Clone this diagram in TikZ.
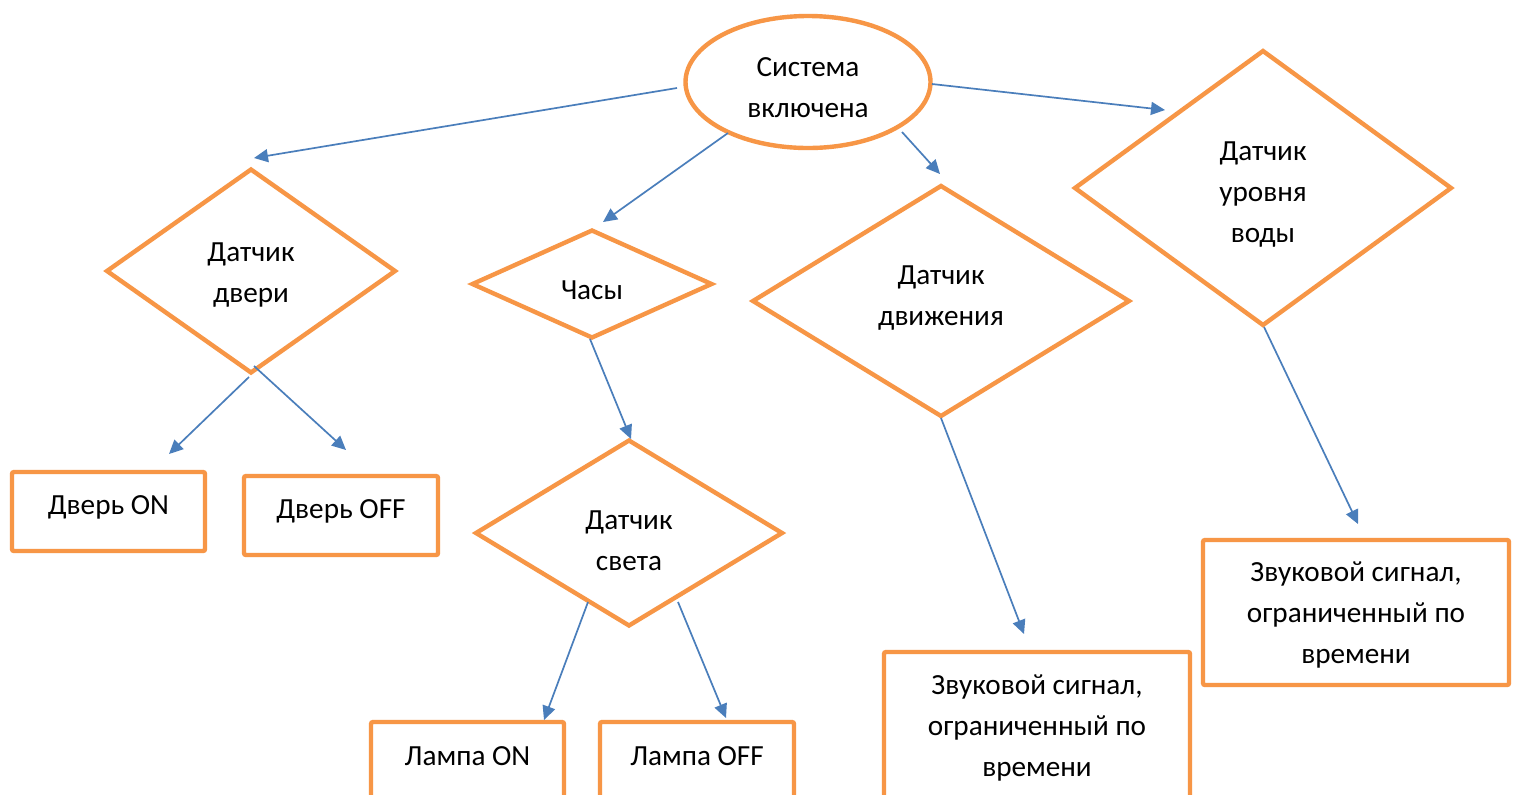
\documentclass[tikz,border=0pt]{standalone}
\usepackage{fontspec}
\setmainfont{Carlito}
\usetikzlibrary{shapes.geometric,arrows.meta}
\definecolor{orng}{HTML}{F79646}
\definecolor{blu}{HTML}{4A7EBB}
\begin{document}
\begin{tikzpicture}[x=0.5pt,y=-0.5pt,
  shp/.style={draw=orng,line width=2.2pt,inner sep=0pt,outer sep=0pt},
  dia/.style={shp,diamond},
  box/.style={shp,rectangle,rounded corners=1pt},
  lbl/.style={font=\fontsize{14.6}{20.5}\selectfont,align=center,inner sep=0pt},
  arr/.style={draw=blu,line width=0.85pt,-{Triangle[length=7pt,width=6.5pt]}}]
\clip (0,0) rectangle (1518,794);
\useasboundingbox (0,0) rectangle (1518,794);
\fill[white] (0,0) rectangle (1518,794);
% shapes
\node[shp,ellipse,minimum width=122.5pt,minimum height=66pt] (sys) at (808,82) {};
\node[dia,minimum width=144pt,minimum height=101.5pt] (door) at (251,271) {};
\node[dia,minimum width=119.5pt,minimum height=53.5pt] (clock) at (592,284) {};
\node[dia,minimum width=153pt,minimum height=92.5pt] (light) at (629,533) {};
\node[dia,minimum width=188pt,minimum height=115pt] (motion) at (941,301) {};
\node[dia,minimum width=188pt,minimum height=137pt] (water) at (1263,188) {};
\node[box,minimum width=96.5pt,minimum height=39.5pt] (doorOn) at (108.5,511.5) {};
\node[box,minimum width=97pt,minimum height=39.5pt] (doorOff) at (341,515.5) {};
\node[box,minimum width=96.5pt,minimum height=50pt] (lampOn) at (467.5,772) {};
\node[box,minimum width=97pt,minimum height=50pt] (lampOff) at (697,772) {};
\node[box,minimum width=153pt,minimum height=74pt] (soundM) at (1037,726) {};
\node[box,minimum width=153pt,minimum height=72.5pt] (soundR) at (1356,612.5) {};
% labels
\node[lbl] (tsys) at (808,88) {Система\\включена};
\node[lbl] (tdoor) at (251,275) {Датчик\\двери};
\node[lbl] (tclock) at (592,290) {Часы};
\node[lbl] (tlight) at (629,541) {Датчик\\света};
\node[lbl] (tmotion) at (941,298) {Датчик\\движения};
\node[lbl] (twater) at (1263,195) {Датчик\\уровня\\воды};
\node[lbl] (tdoorOn) at (108.5,507) {Дверь ON};
\node[lbl] (tdoorOff) at (341,511) {Дверь OFF};
\node[lbl] (tlampOn) at (467.5,756) {Лампа ON};
\node[lbl] (tlampOff) at (697,756) {Лампа OFF};
\node[lbl] (tsoundM) at (1037,728) {Звуковой сигнал,\\ограниченный по\\времени};
\node[lbl] (tsoundR) at (1356,615) {Звуковой сигнал,\\ограниченный по\\времени};
% connector ends
\coordinate (a1) at (677,88);  \coordinate (b1) at (254,158);
\coordinate (a2) at (728,133); \coordinate (b2) at (603,222);
\coordinate (a3) at (902,132); \coordinate (b3) at (940,174);
\coordinate (a4) at (932,84);  \coordinate (b4) at (1165,110);
\coordinate (a5) at (249,377); \coordinate (b5) at (169,454);
\coordinate (a6) at (254,366); \coordinate (b6) at (346,450);
\coordinate (a7) at (590,339); \coordinate (b7) at (631,439);
\coordinate (a8) at (588,602); \coordinate (b8) at (544,720);
\coordinate (a9) at (678,602); \coordinate (b9) at (726,718);
\coordinate (a10) at (941,418); \coordinate (b10) at (1024,634);
\coordinate (a11) at (1264,327); \coordinate (b11) at (1358,524);
\foreach \i in {1,...,11} \draw[arr] (a\i) -- (b\i);
\end{tikzpicture}
\end{document}
